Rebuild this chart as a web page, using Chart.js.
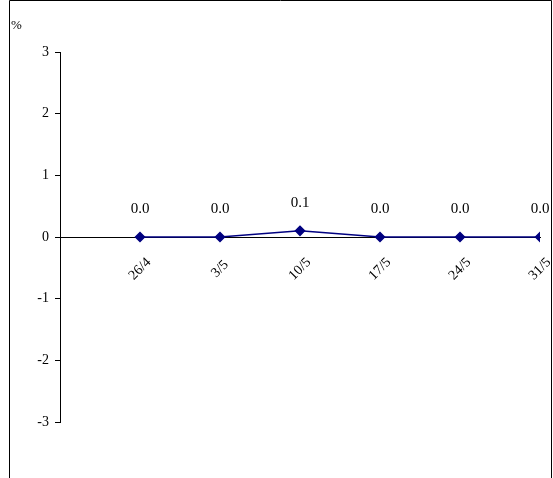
<!DOCTYPE html>
<html><head><meta charset="utf-8">
<script src="https://cdn.jsdelivr.net/npm/chart.js@4"></script>
<style>
html,body{margin:0;padding:0;background:#fff;overflow:hidden}
#wrap{position:relative;width:553px;height:478px}
canvas{position:absolute;left:0;top:0}
</style></head><body>
<div id="wrap"><canvas id="c" width="553" height="478"></canvas></div>
<script>
const categories = ['26/4', '3/5', '10/5', '17/5', '24/5', '31/5'];
const values = [0.0, 0.0, 0.1, 0.0, 0.0, 0.0];
const yTicks = [-3, -2, -1, 0, 1, 2, 3];

const labelPlugin = {
    id: 'valueLabels',
    beforeDraw(chart) {
        const ctx = chart.ctx;
        ctx.save();
        ctx.strokeStyle = '#000';
        ctx.lineWidth = 1;
        ctx.beginPath();
        ctx.moveTo(9.5, 478);
        ctx.lineTo(9.5, 0.5);
        ctx.lineTo(551.5, 0.5);
        ctx.lineTo(551.5, 478);
        ctx.stroke();
        ctx.font = '13px "Liberation Serif", serif';
        ctx.fillStyle = '#000';
        ctx.textBaseline = 'top';
        ctx.fillText('%', 11, 19);
        ctx.restore();
    },
    afterDatasetsDraw(chart) {
        const ctx = chart.ctx;
        const meta = chart.getDatasetMeta(0);
        const xs = chart.scales.x, ys = chart.scales.y;
        const y0 = ys.getPixelForValue(0);
        ctx.save();
        ctx.font = '15px "Liberation Serif", serif';
        ctx.fillStyle = '#000';
        ctx.textAlign = 'center';
        ctx.textBaseline = 'bottom';
        meta.data.forEach((pt, i) => {
            ctx.fillText(values[i].toFixed(1), pt.x, pt.y - 20);
        });
        ctx.font = '14px "Liberation Serif", serif';
        ctx.textBaseline = 'middle';
        categories.forEach((c, i) => {
            const x = xs.getPixelForValue(i + 1);
            ctx.save();
            ctx.translate(x, y0 + 32);
            ctx.rotate(-Math.PI / 4);
            ctx.fillText(c, 0, 0);
            ctx.restore();
        });
        ctx.restore();
    }
};

new Chart(document.getElementById('c'), {
    type: 'line',
    data: {
        datasets: [{
            data: values.map((v, i) => ({x: i + 1, y: v})),
            borderColor: '#000080',
            backgroundColor: '#000080',
            borderWidth: 1.5,
            pointStyle: 'rectRot',
            pointRadius: 4.5,
            tension: 0
        }]
    },
    options: {
        responsive: false,
        animation: false,
        layout: {padding: {left: 10, top: 52, right: 13, bottom: 56}},
        plugins: {legend: {display: false}, tooltip: {enabled: false}},
        scales: {
            x: {
                type: 'linear', min: 0, max: 6,
                position: {y: 0},
                afterBuildTicks: s => { s.ticks = categories.map((c, i) => ({value: i + 1})); },
                ticks: {display: false},
                grid: {display: false},
                border: {color: '#000'}
            },
            y: {
                min: -3, max: 3,
                afterBuildTicks: s => { s.ticks = yTicks.map(v => ({value: v})); },
                afterFit: s => { s.width = 50; },
                ticks: {color: '#000', padding: 6, font: {family: 'Liberation Serif', size: 14}},
                grid: {drawOnChartArea: false, tickLength: 5, color: '#000'},
                border: {color: '#000'}
            }
        }
    },
    plugins: [labelPlugin]
});
</script>
</body></html>
